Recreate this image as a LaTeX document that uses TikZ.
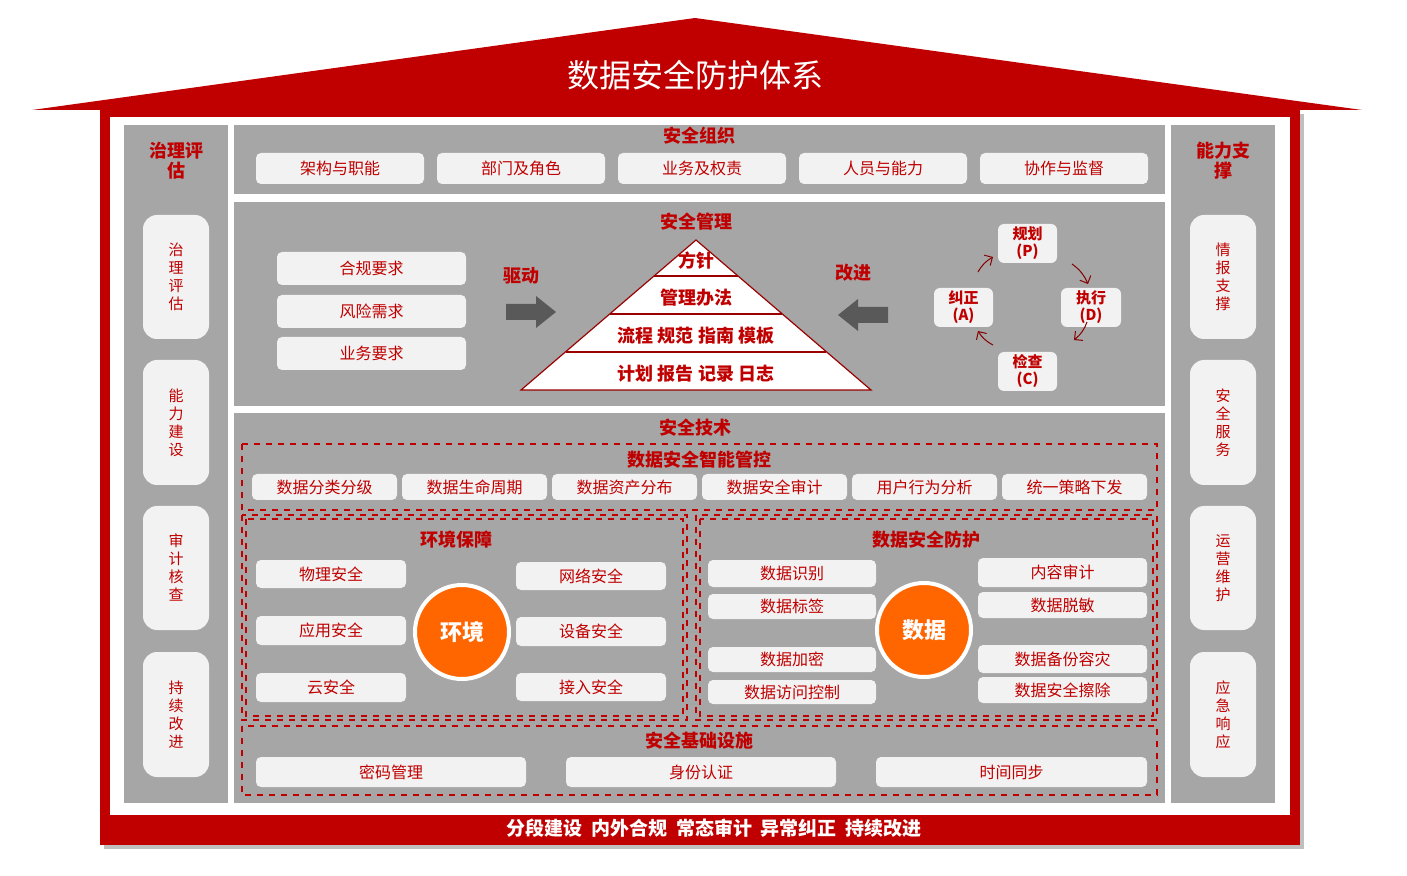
\documentclass[tikz,border=0pt]{standalone}
\usepackage{fontspec}
\setmainfont{Noto Sans CJK SC}
\usetikzlibrary{arrows.meta}
\definecolor{dr}{HTML}{C00000}
\definecolor{gp}{HTML}{A6A6A6}
\definecolor{bxc}{HTML}{F2F2F2}
\definecolor{org}{HTML}{FF6600}
\tikzset{
 boxs/.style={fill=bxc,rounded corners=2.5pt,text=dr,font=\fontsize{8}{9}\selectfont,inner sep=0pt,align=center},
 vbox/.style={fill=bxc,rounded corners=7pt,text=dr,font=\fontsize{7.5}{9}\selectfont,inner sep=0pt,align=center},
 ttl/.style={text=dr,font=\bfseries\fontsize{9}{10}\selectfont,align=center},
 panel/.style={fill=gp,draw=none},
 dsh/.style={draw=dr,dashed,line width=0.6pt},
 pd/.style={fill=bxc,rounded corners=3pt,text=dr,font=\bfseries\fontsize{7.5}{8.5}\selectfont,inner sep=0pt,align=center},
 circ/.style={circle,fill=org,draw=white,line width=2pt,minimum size=47pt,text=white,font=\bfseries\fontsize{11}{12}\selectfont},
 cyc/.style={-{Straight Barb[length=3pt]},draw=dr!70!black,line width=0.5pt},
 bigar/.style={draw=none,fill=black!65}
}
\newcommand\bx[7][boxs]{\node[#1,minimum width={(#5-#3)*0.5pt},minimum height={(#6-#4)*0.5pt}] (#2) at ({(#3+#5)/2},{(#4+#6)/2}) {#7};}
\begin{document}
\begin{tikzpicture}[x=0.5pt,y=-0.5pt]
\useasboundingbox (0,0) rectangle (1407,876);
% roof
\fill[dr] (32,110) -- (695,18) -- (1362,110) -- cycle;
\node[text=white,font=\fontsize{16}{18}\selectfont] (title) at (695,75) {数据安全防护体系};
% frame
\fill[black!25] (104,114) rectangle (1304,849);
\fill[dr] (100,110) rectangle (1300,845);
\fill[white] (110,117) rectangle (1290,815);
\node[text=white,font=\bfseries\fontsize{9.5}{11}\selectfont] (motto) at (714,828) {分段建设\ \ 内外合规\ \ 常态审计\ \ 异常纠正\ \ 持续改进};
% side columns
\fill[gp] (124,125) rectangle (228,803);
\fill[gp] (1171,125) rectangle (1275,803);
\node[ttl] (lt) at (176,161) {治理评\\估};
\node[ttl] (rt) at (1223,161) {能力支\\撑};
\bx[vbox]{l1}{143}{215}{209}{339}{治\\理\\评\\估}
\bx[vbox]{l2}{143}{360}{209}{485}{能\\力\\建\\设}
\bx[vbox]{l3}{143}{506}{209}{630}{审\\计\\核\\查}
\bx[vbox]{l4}{143}{652}{209}{777}{持\\续\\改\\进}
\bx[vbox]{r1}{1190}{215}{1256}{339}{情\\报\\支\\撑}
\bx[vbox]{r2}{1190}{360}{1256}{485}{安\\全\\服\\务}
\bx[vbox]{r3}{1190}{506}{1256}{630}{运\\营\\维\\护}
\bx[vbox]{r4}{1190}{652}{1256}{777}{应\\急\\响\\应}
% org
\fill[gp] (234,125) rectangle (1165,194);
\node[ttl] (ot) at (699,136) {安全组织};
\bx{o1}{256}{153}{424}{184}{架构与职能}
\bx{o2}{437}{153}{605}{184}{部门及角色}
\bx{o3}{618}{153}{786}{184}{业务及权责}
\bx{o4}{799}{153}{967}{184}{人员与能力}
\bx{o5}{980}{153}{1148}{184}{协作与监督}
% management
\fill[gp] (234,202) rectangle (1165,406);
\node[ttl] (mt) at (696,222) {安全管理};
\bx{m1}{277}{252}{466}{285}{合规要求}
\bx{m2}{277}{295}{466}{328}{风险需求}
\bx{m3}{277}{337}{466}{370}{业务要求}
\node[ttl] (qd) at (521,276) {驱动};
\node[ttl] (gj) at (853,273) {改进};
\fill[bigar] (506,304) -- (536,304) -- (536,296) -- (556,312) -- (536,328) -- (536,320) -- (506,320) -- cycle;
\fill[bigar] (888,307) -- (858,307) -- (858,299) -- (838,315) -- (858,331) -- (858,323) -- (888,323) -- cycle;
\draw[dr!80!black,fill=white,line width=0.6pt] (696,240) -- (871,390) -- (521,390) -- cycle;
\draw[dr!80!black,line width=1pt] (654,276) -- (738,276) (610,314) -- (782,314) (566,352) -- (826,352);
\node[ttl] (p1) at (696,261) {方针};
\node[ttl] (p2) at (696,298) {管理办法};
\node[ttl] (p3) at (696,336) {流程 规范 指南 模板};
\node[ttl] (p4) at (696,374) {计划 报告 记录 日志};
\bx[pd]{pp}{998}{224}{1057}{263}{规划\\(P)}
\bx[pd]{dd}{1061}{288}{1121}{327}{执行\\(D)}
\bx[pd]{cc}{998}{352}{1057}{391}{检查\\(C)}
\bx[pd]{aa}{934}{288}{993}{327}{纠正\\(A)}
\coordinate (a1) at (978,272); \coordinate (a2) at (993,257);
\coordinate (b1) at (1072,264); \coordinate (b2) at (1088,284);
\coordinate (c1) at (1087,322); \coordinate (c2) at (1074,340);
\coordinate (d1) at (993,345); \coordinate (d2) at (978,331);
\draw[cyc] (a1) to[bend left=15] (a2);
\draw[cyc] (b1) to[bend left=15] (b2);
\draw[cyc] (c1) to[bend left=15] (c2);
\draw[cyc] (d1) to[bend left=15] (d2);
% technology
\fill[gp] (234,413) rectangle (1165,803);
\node[ttl] (tt) at (695,428) {安全技术};
\draw[dsh] (242,444) rectangle (1157,510);
\node[ttl] (it) at (699,460) {数据安全智能管控};
\bx{i1}{252}{474}{397}{500}{数据分类分级}
\bx{i2}{402}{474}{547}{500}{数据生命周期}
\bx{i3}{552}{474}{697}{500}{数据资产分布}
\bx{i4}{702}{474}{847}{500}{数据安全审计}
\bx{i5}{852}{474}{997}{500}{用户行为分析}
\bx{i6}{1002}{474}{1147}{500}{统一策略下发}
\draw[dsh] (242,515) rectangle (687,720);
\draw[dsh] (246,519) rectangle (683,716);
\draw[dsh] (696,515) rectangle (1157,720);
\draw[dsh] (700,519) rectangle (1153,716);
\node[ttl] (et) at (456,540) {环境保障};
\node[ttl] (dt) at (926,540) {数据安全防护};
\bx{e1}{256}{560}{406}{588}{物理安全}
\bx{e2}{256}{616}{406}{645}{应用安全}
\bx{e3}{256}{673}{406}{702}{云安全}
\bx{e4}{516}{562}{666}{590}{网络安全}
\bx{e5}{516}{617}{666}{646}{设备安全}
\bx{e6}{516}{673}{666}{701}{接入安全}
\node[circ] (env) at (462,632) {环境};
\bx{d1}{708}{560}{876}{587}{数据识别}
\bx{d2}{708}{594}{876}{619}{数据标签}
\bx{d3}{708}{647}{876}{672}{数据加密}
\bx{d4}{708}{680}{876}{704}{数据访问控制}
\bx{d5}{978}{558}{1147}{587}{内容审计}
\bx{d6}{978}{592}{1147}{618}{数据脱敏}
\bx{d7}{978}{645}{1147}{673}{数据备份容灾}
\bx{d8}{978}{677}{1147}{703}{数据安全擦除}
\node[circ] (dat) at (924,630) {数据};
\draw[dsh] (242,726) rectangle (1157,795);
\node[ttl] (ft) at (699,741) {安全基础设施};
\bx{f1}{256}{757}{526}{787}{密码管理}
\bx{f2}{566}{757}{836}{787}{身份认证}
\bx{f3}{876}{757}{1147}{787}{时间同步}
\end{tikzpicture}
\end{document}
